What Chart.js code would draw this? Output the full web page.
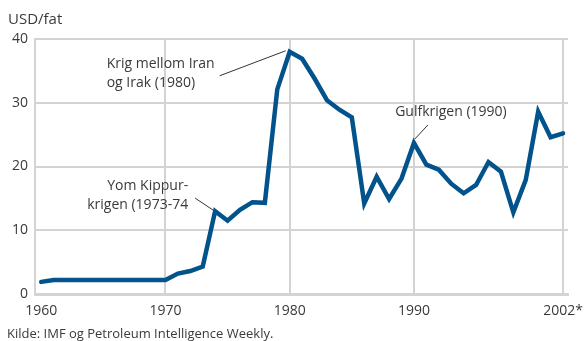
<!DOCTYPE html>
<html lang="no">
<head>
<meta charset="utf-8">
<title>Oljepris</title>
<script src="https://cdn.jsdelivr.net/npm/chart.js@4"></script>
<style>
  html, body { margin: 0; padding: 0; background: #fff; }
  #wrap { position: relative; width: 584px; height: 341px; overflow: hidden; }
  #graf { position: absolute; left: 0; top: 0; }
  .tekst { position: absolute; font-family: "Open Sans", sans-serif; color: #3a3a3a; white-space: nowrap; }
  #enhet { left: 8px; top: 8px; font-size: 15px; }
  #kilde { left: 7px; top: 324px; font-size: 13px; }
</style>
</head>
<body>
<div id="wrap">
  <canvas id="graf" width="584" height="341"></canvas>
  <div class="tekst" id="enhet">USD/fat</div>
  <div class="tekst" id="kilde">Kilde: IMF og Petroleum Intelligence Weekly.</div>
</div>
<script>
// Årstall og oljepris (USD per fat)
const aar = [
  1960, 1961, 1962, 1963, 1964, 1965, 1966, 1967, 1968, 1969,
  1970, 1971, 1972, 1973, 1974, 1975, 1976, 1977, 1978, 1979,
  1980, 1981, 1982, 1983, 1984, 1985, 1986, 1987, 1988, 1989,
  1990, 1991, 1992, 1993, 1994, 1995, 1996, 1997, 1998, 1999,
  2000, 2001, 2002
];
const oljepris = [
  1.9, 2.2, 2.2, 2.2, 2.2, 2.2, 2.2, 2.2, 2.2, 2.2,
  2.2, 3.2, 3.6, 4.3, 13.0, 11.5, 13.2, 14.4, 14.3, 32.1,
  38.0, 36.9, 33.8, 30.4, 28.9, 27.7, 14.2, 18.4, 14.9, 18.1,
  23.7, 20.3, 19.5, 17.3, 15.8, 17.1, 20.7, 19.2, 12.8, 17.9,
  28.6, 24.6, 25.2
];
const xEtiketter = [1960, 1970, 1980, 1990, 2002];
const yEtiketter = [0, 10, 20, 30, 40];

// Merknader til hendelser i serien
const merknader = [
  { aar: 1980, linjer: ['Krig mellom Iran', 'og Irak (1980)'], justering: 'left',
    tekst: [-183, 12], fra: [-70, 24], til: [-4, -1] },
  { aar: 1974, linjer: ['Yom Kippur-', 'krigen (1973-74'], justering: 'right',
    tekst: [-27, -25], fra: [-20, -13], til: [-2, -1] },
  { aar: 1990, linjer: ['Gulfkrigen (1990)'], justering: 'center',
    tekst: [37, -31], fra: [14, -18], til: [1, -4] }
];

const tekstFarge = '#3a3a3a';
const gridFarge = '#d3d3d3';

const merknadPlugin = {
  id: 'merknader',
  afterDatasetsDraw(chart) {
    const ctx = chart.ctx;
    const xs = chart.scales.x;
    const ys = chart.scales.y;
    ctx.save();
    ctx.font = '14px "Open Sans", sans-serif';
    ctx.fillStyle = tekstFarge;
    ctx.strokeStyle = '#333';
    ctx.lineWidth = 1;
    ctx.textBaseline = 'middle';
    merknader.forEach(function (m) {
      const i = aar.indexOf(m.aar);
      const px = xs.getPixelForValue(aar[i]);
      const py = ys.getPixelForValue(oljepris[i]);
      ctx.textAlign = m.justering;
      m.linjer.forEach(function (linje, n) {
        ctx.fillText(linje, px + m.tekst[0], py + m.tekst[1] + n * 19);
      });
      ctx.beginPath();
      ctx.moveTo(px + m.fra[0], py + m.fra[1]);
      ctx.lineTo(px + m.til[0], py + m.til[1]);
      ctx.stroke();
    });
    ctx.restore();
  }
};

// Ingen ekstra luft for etiketter som stikker ut over kanten
function nullPadding(scale) {
  scale.paddingLeft = 0;
  scale.paddingRight = 0;
  scale.paddingTop = 0;
  scale.paddingBottom = 0;
}

const config = {
  type: 'line',
  data: {
    datasets: [{
      label: 'Oljepris',
      data: aar.map(function (a, i) { return { x: a, y: oljepris[i] }; }),
      borderColor: '#02528c',
      borderWidth: 4.5,
      borderJoinStyle: 'miter',
      borderCapStyle: 'round',
      pointRadius: 0,
      tension: 0,
      fill: false
    }]
  },
  options: {
    responsive: false,
    animation: false,
    events: [],
    layout: { padding: { top: 39, right: 16, left: 0, bottom: 0 } },
    plugins: {
      legend: { display: false },
      tooltip: { enabled: false },
      title: { display: false }
    },
    scales: {
      x: {
        type: 'linear',
        min: 1959.5,
        max: 2002.4,
        afterBuildTicks: function (scale) {
          scale.ticks = xEtiketter.map(function (v) { return { value: v }; });
        },
        afterFit: function (scale) { scale.height = 47; nullPadding(scale); },
        ticks: {
          autoSkip: false,
          maxRotation: 0,
          padding: 9,
          color: tekstFarge,
          font: { family: '"Open Sans", sans-serif', size: 14 },
          callback: function (v) { return v === 2002 ? '2002*' : String(v); }
        },
        grid: {
          drawTicks: false,
          lineWidth: 2,
          color: function (c) { return c.tick && c.tick.value === 1960 ? 'rgba(0,0,0,0)' : gridFarge; }
        },
        border: { display: true, color: gridFarge, width: 3 }
      },
      y: {
        min: 0,
        max: 40,
        afterBuildTicks: function (scale) {
          scale.ticks = yEtiketter.map(function (v) { return { value: v }; });
        },
        afterFit: function (scale) { scale.width = 35; nullPadding(scale); },
        ticks: {
          padding: 7,
          color: tekstFarge,
          font: { family: '"Open Sans", sans-serif', size: 14 }
        },
        grid: { drawTicks: false, lineWidth: 2, color: gridFarge },
        border: { display: true, color: gridFarge, width: 2 }
      }
    }
  },
  plugins: [merknadPlugin]
};

new Chart(document.getElementById('graf'), config);
</script>
</body>
</html>
